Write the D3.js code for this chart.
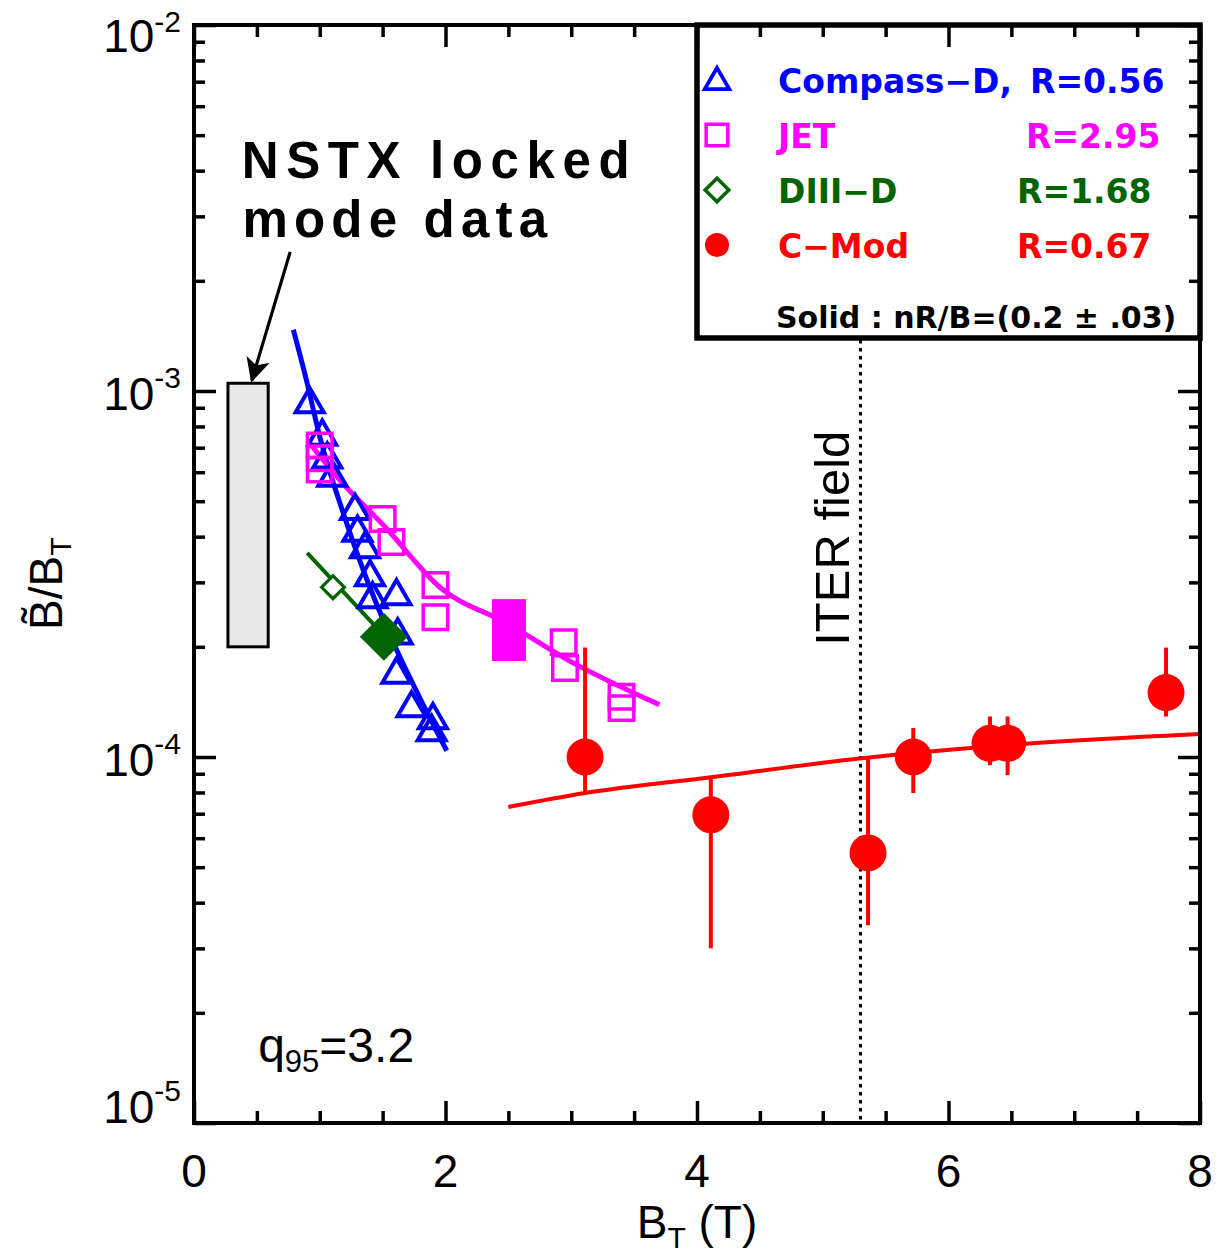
<!DOCTYPE html>
<html><head><meta charset="utf-8">
<script src="https://cdn.jsdelivr.net/npm/d3@7"></script>
<style>body{margin:0;background:#fff} svg{display:block}</style>
</head><body>
<svg id="c" width="1218" height="1255"></svg>
<script>
// ---------------- DATA ----------------
const compassX = [0.92, 1.02, 1.06, 1.10, 1.28, 1.30, 1.36, 1.40, 1.42, 1.61, 1.62, 1.61, 1.73, 1.90, 1.89];
const compassY = [9.2e-4, 7.5e-4, 6.5e-4, 5.8e-4, 4.7e-4, 4.1e-4, 3.7e-4, 3.1e-4, 2.7e-4, 2.75e-4, 2.15e-4, 1.68e-4, 1.36e-4, 1.26e-4, 1.17e-4];
const compassFitX = [0.79, 0.9, 1.0, 1.2, 1.4, 1.6, 1.8, 2.01];
const compassFitY = [1.47e-3, 1.05e-3, 7.5e-4, 4.5e-4, 2.9e-4, 2.0e-4, 1.44e-4, 1.04e-4];

const jetX = [1.0, 1.0, 1.0, 1.50, 1.57, 1.92, 1.92, 2.94, 2.95, 3.40, 3.40];
const jetY = [7.1e-4, 6.55e-4, 6.1e-4, 4.47e-4, 3.87e-4, 2.95e-4, 2.41e-4, 2.06e-4, 1.75e-4, 1.46e-4, 1.36e-4];
const jetBandX = [2.505];
const jetBandLo = [1.83e-4];
const jetBandHi = [2.70e-4];
const jetFitX = [0.90, 1.16, 1.52, 1.96, 2.50, 2.95, 3.70];
const jetFitY = [7.35e-4, 5.71e-4, 4.25e-4, 2.90e-4, 2.31e-4, 1.86e-4, 1.39e-4];

const d3dOpenX = [1.105];
const d3dOpenY = [2.91e-4];
const d3dFilledX = [1.51];
const d3dFilledY = [2.13e-4];
const d3dFitX = [0.90, 1.60];
const d3dFitY = [3.61e-4, 1.99e-4];

const cmodX  = [3.11, 4.11, 5.36, 5.72, 6.33, 6.47, 7.73];
const cmodY  = [1.0e-4, 6.95e-5, 5.47e-5, 1.0e-4, 1.09e-4, 1.09e-4, 1.50e-4];
const cmodHi = [1.99e-4, 8.8e-5, 1.0e-4, 1.2e-4, 1.29e-4, 1.29e-4, 1.99e-4];
const cmodLo = [7.97e-5, 3.0e-5, 3.47e-5, 7.97e-5, 9.5e-5, 8.93e-5, 1.29e-4];
const cmodFitX = [2.5, 3.11, 4.11, 5.33, 6.5, 8.0];
const cmodFitY = [7.3e-5, 7.97e-5, 8.8e-5, 9.94e-5, 1.08e-4, 1.156e-4];

const nstxX = [0.27, 0.59];
const nstxY = [2.0e-4, 1.05e-3];
const iterField = 5.3;

const xTickValues = [0, 2, 4, 6, 8];
const xTickLabels = ['0', '2', '4', '6', '8'];
const yTickExps = [-5, -4, -3, -2];
const yTickLabels = ['-5', '-4', '-3', '-2'];

const legendNames = ['Compass\u2212D,', 'JET', 'DIII\u2212D', 'C\u2212Mod'];
const legendR = ['R=0.56', 'R=2.95', 'R=1.68', 'R=0.67'];
const legendColors = ['#0000ff', '#ff00ff', '#006400', '#ff0000'];

// ---------------- SETUP ----------------
const svg = d3.select('#c');
const x = d3.scaleLinear().domain([0, 8]).range([194, 1200]);
const y = d3.scaleLog().domain([1e-5, 1e-2]).range([1123, 25]);
const FONT = "'Liberation Sans', Arial, Helvetica, sans-serif";
const LFONT = "'DejaVu Sans', Verdana, sans-serif";
const BLUE = '#0000ff', MAG = '#ff00ff', GRN = '#006400', RED = '#ff0000';

const zip = (a, b) => a.map((v, i) => [v, b[i]]);
const line = d3.line().x(d => x(d[0])).y(d => y(d[1])).curve(d3.curveMonotoneX);

// NSTX box
svg.append('rect')
  .attr('x', x(nstxX[0])).attr('y', y(nstxY[1]))
  .attr('width', x(nstxX[1]) - x(nstxX[0])).attr('height', y(nstxY[0]) - y(nstxY[1]))
  .attr('fill', '#e8e8e8').attr('stroke', '#000').attr('stroke-width', 3);

// arrow
const defs = svg.append('defs');
defs.append('marker').attr('id', 'ah').attr('viewBox', '0 0 10 10')
  .attr('refX', 9).attr('refY', 5).attr('markerWidth', 7.5).attr('markerHeight', 7.5)
  .attr('markerUnits', 'strokeWidth').attr('orient', 'auto')
  .append('path').attr('d', 'M0,0 L10,5 L0,10 L2.5,5 Z').attr('fill', '#000');
svg.append('line')
  .attr('x1', x(0.765)).attr('y1', y(2.4e-3)).attr('x2', x(0.46)).attr('y2', y(1.07e-3))
  .attr('stroke', '#000').attr('stroke-width', 3.2).attr('marker-end', 'url(#ah)');

// NSTX annotation
const nst = svg.append('text').attr('font-family', FONT).attr('font-weight', 'bold')
  .attr('font-size', 51).attr('letter-spacing', 7).attr('fill', '#000');
nst.append('tspan').attr('x', x(0.38)).attr('y', y(3.82e-3)).attr('letter-spacing', 7.6).text('NSTX locked');
nst.append('tspan').attr('x', x(0.385)).attr('y', y(2.64e-3)).attr('letter-spacing', 6.2).text('mode data');

// ITER dotted line
svg.append('line').attr('x1', x(iterField)).attr('x2', x(iterField))
  .attr('y1', 340).attr('y2', y(1e-5))
  .attr('stroke', '#000').attr('stroke-width', 3).attr('stroke-dasharray', '3.5 4.5');
svg.append('text').attr('transform', `translate(${x(iterField) - 11},${y(2.0e-4) - 1}) rotate(-90)`)
  .attr('font-family', FONT).attr('font-size', 49).attr('fill', '#000').text('ITER field');

// fit lines
svg.append('path').attr('d', line(zip(compassFitX, compassFitY))).attr('fill', 'none')
  .attr('stroke', BLUE).attr('stroke-width', 5);
svg.append('path').attr('d', line(zip(jetFitX, jetFitY))).attr('fill', 'none')
  .attr('stroke', MAG).attr('stroke-width', 5);
svg.append('path').attr('d', line(zip(d3dFitX, d3dFitY))).attr('fill', 'none')
  .attr('stroke', GRN).attr('stroke-width', 4);
svg.append('path').attr('d', line(zip(cmodFitX, cmodFitY))).attr('fill', 'none')
  .attr('stroke', RED).attr('stroke-width', 4);

// markers
const tri = d3.symbol().type(d3.symbolTriangle).size(340);
const sq = d3.symbol().type(d3.symbolSquare).size(600);
svg.append('g').selectAll('path').data(zip(compassX, compassY)).join('path')
  .attr('transform', d => `translate(${x(d[0])},${y(d[1])})`).attr('d', tri())
  .attr('fill', 'none').attr('stroke', BLUE).attr('stroke-width', 4).attr('stroke-linejoin', 'miter');
svg.append('g').selectAll('path').data(zip(jetX, jetY)).join('path')
  .attr('transform', d => `translate(${x(d[0])},${y(d[1])})`).attr('d', sq())
  .attr('fill', 'none').attr('stroke', MAG).attr('stroke-width', 3.5);
svg.append('g').selectAll('rect').data(jetBandX.map((v, i) => [v, jetBandLo[i], jetBandHi[i]])).join('rect')
  .attr('x', d => x(d[0]) - 17).attr('width', 34)
  .attr('y', d => y(d[2])).attr('height', d => y(d[1]) - y(d[2])).attr('fill', MAG);
svg.append('g').selectAll('path').data(zip(d3dOpenX, d3dOpenY)).join('path')
  .attr('transform', d => `translate(${x(d[0])},${y(d[1])}) rotate(45)`)
  .attr('d', d3.symbol().type(d3.symbolSquare).size(260)())
  .attr('fill', '#fff').attr('stroke', GRN).attr('stroke-width', 3.2);
svg.append('g').selectAll('path').data(zip(d3dFilledX, d3dFilledY)).join('path')
  .attr('transform', d => `translate(${x(d[0])},${y(d[1])}) rotate(45)`)
  .attr('d', d3.symbol().type(d3.symbolSquare).size(1150)())
  .attr('fill', GRN);

// C-Mod error bars + points
svg.append('g').selectAll('line').data(cmodX.map((v, i) => [v, cmodLo[i], cmodHi[i]])).join('line')
  .attr('x1', d => x(d[0])).attr('x2', d => x(d[0]))
  .attr('y1', d => y(d[2])).attr('y2', d => y(d[1]))
  .attr('stroke', RED).attr('stroke-width', 4);
svg.append('g').selectAll('circle').data(zip(cmodX, cmodY)).join('circle')
  .attr('cx', d => x(d[0])).attr('cy', d => y(d[1])).attr('r', 18.5).attr('fill', RED);

// q95 label
const q = svg.append('text').attr('x', x(0.51)).attr('y', y(1.47e-5)).attr('font-family', FONT)
  .attr('font-size', 48).attr('fill', '#000');
q.append('tspan').text('q');
q.append('tspan').attr('font-size', 31).attr('dy', 10).text('95');
q.append('tspan').attr('dy', -10).text('=3.2');

// legend
svg.append('rect').attr('x', 697).attr('y', 25).attr('width', 503).attr('height', 313)
  .attr('fill', '#fff').attr('stroke', '#000').attr('stroke-width', 5.5);
const rowY = [80, 135, 190, 245];
const rX = [1030, 1026, 1017, 1017];
const lg = svg.append('g');
lg.append('path').attr('transform', `translate(717,${rowY[0] + 2})`)
  .attr('d', d3.symbol().type(d3.symbolTriangle).size(260)())
  .attr('fill', 'none').attr('stroke', BLUE).attr('stroke-width', 3.8);
lg.append('path').attr('transform', `translate(717,${rowY[1]})`)
  .attr('d', d3.symbol().type(d3.symbolSquare).size(470)())
  .attr('fill', 'none').attr('stroke', MAG).attr('stroke-width', 3.5);
lg.append('path').attr('transform', `translate(717,${rowY[2]}) rotate(45)`)
  .attr('d', d3.symbol().type(d3.symbolSquare).size(280)())
  .attr('fill', 'none').attr('stroke', GRN).attr('stroke-width', 3.5);
lg.append('circle').attr('cx', 717).attr('cy', rowY[3]).attr('r', 12).attr('fill', RED);
legendNames.forEach((n, i) => {
  lg.append('text').attr('x', 778).attr('y', rowY[i] + 13).attr('font-family', LFONT)
    .attr('font-weight', 'bold').attr('font-size', 33).attr('fill', legendColors[i]).text(n);
  lg.append('text').attr('x', rX[i]).attr('y', rowY[i] + 13).attr('font-family', LFONT)
    .attr('font-weight', 'bold').attr('font-size', 33).attr('fill', legendColors[i]).text(legendR[i]);
});
lg.append('text').attr('x', 776).attr('y', 328).attr('font-family', LFONT)
  .attr('font-weight', 'bold').attr('font-size', 30).attr('fill', '#000')
  .text('Solid : nR/B=(0.2 \u00b1 .03)');

// ticks
const xMinor = d3.range(0, 8.01, 0.5).filter(v => Math.abs(v % 2) > 1e-6);
const yMajor = yTickExps.map(e => Math.pow(10, e));
const yMinor = [];
yTickExps.slice(0, -1).forEach(e => { for (let m = 2; m <= 9; m++) yMinor.push(m * Math.pow(10, e)); });
const tickStyle = g => { g.select('.domain').remove(); g.selectAll('line').attr('stroke', '#000').attr('stroke-width', 3.5); };
const addAxis = (axis, tr) => svg.append('g').attr('transform', tr).call(axis).call(tickStyle);
addAxis(d3.axisBottom(x).tickValues(xTickValues).tickSize(-22).tickFormat(''), `translate(0,${y(1e-5)})`);
addAxis(d3.axisBottom(x).tickValues(xMinor).tickSize(-12).tickFormat(''), `translate(0,${y(1e-5)})`);
addAxis(d3.axisTop(x).tickValues(xTickValues).tickSize(-22).tickFormat(''), `translate(0,${y(1e-2)})`);
addAxis(d3.axisTop(x).tickValues(xMinor).tickSize(-12).tickFormat(''), `translate(0,${y(1e-2)})`);
addAxis(d3.axisLeft(y).tickValues(yMajor).tickSize(-22).tickFormat(''), `translate(${x(0)},0)`);
addAxis(d3.axisLeft(y).tickValues(yMinor).tickSize(-11).tickFormat(''), `translate(${x(0)},0)`);
addAxis(d3.axisRight(y).tickValues(yMajor).tickSize(-22).tickFormat(''), `translate(${x(8)},0)`);
addAxis(d3.axisRight(y).tickValues(yMinor).tickSize(-11).tickFormat(''), `translate(${x(8)},0)`);

// frame
svg.append('rect').attr('x', x(0)).attr('y', y(1e-2)).attr('width', x(8) - x(0)).attr('height', y(1e-5) - y(1e-2))
  .attr('fill', 'none').attr('stroke', '#000').attr('stroke-width', 4);

// tick labels
svg.append('g').selectAll('text').data(xTickValues).join('text')
  .attr('x', d => x(d)).attr('y', 1187).attr('text-anchor', 'middle')
  .attr('font-family', FONT).attr('font-size', 46).attr('fill', '#000')
  .text((d, i) => xTickLabels[i]);
const yOff = { '-5': 0, '-4': 19, '-3': 19, '-2': 27 };
yTickExps.forEach((e, i) => {
  const t = svg.append('text').attr('x', 181).attr('y', y(Math.pow(10, e)) + yOff[yTickLabels[i]])
    .attr('text-anchor', 'end').attr('font-family', FONT).attr('font-size', 46).attr('fill', '#000');
  t.append('tspan').text('10');
  t.append('tspan').attr('font-size', 30).attr('dy', e === -2 ? -20 : -22).text(yTickLabels[i]);
});

// axis titles
const xt = svg.append('text').attr('x', 697).attr('y', 1238).attr('text-anchor', 'middle')
  .attr('font-family', FONT).attr('font-size', 46).attr('fill', '#000');
xt.append('tspan').text('B');
xt.append('tspan').attr('font-size', 30).attr('dy', 10).text('T');
xt.append('tspan').attr('dy', -10).text(' (T)');

const yt = svg.append('text').attr('transform', 'translate(62,630) rotate(-90)')
  .attr('font-family', FONT).attr('font-size', 46).attr('fill', '#000');
yt.append('tspan').text('B\u0303/B');
yt.append('tspan').attr('font-size', 30).attr('dy', 9).text('T');
</script>
</body></html>
